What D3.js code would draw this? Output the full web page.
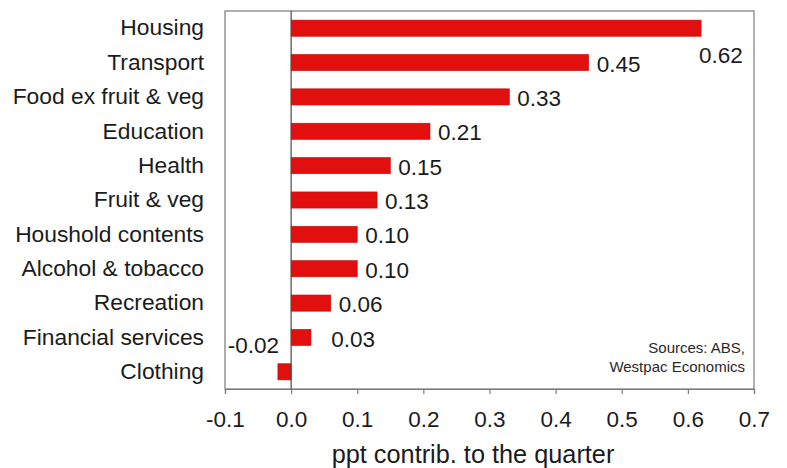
<!DOCTYPE html>
<html>
<head>
<meta charset="utf-8">
<script src="https://cdn.jsdelivr.net/npm/d3@7/dist/d3.min.js"></script>
<style>
  html, body { margin: 0; padding: 0; background: #fff; }
  svg { display: block; font-family: "Liberation Sans", Arial, Helvetica, sans-serif; }
</style>
</head>
<body>
<svg id="chart" width="787" height="468"></svg>
<script>
// CPI contributions by group, percentage points
const categories = [
  "Housing", "Transport", "Food ex fruit & veg", "Education", "Health",
  "Fruit & veg", "Houshold contents", "Alcohol & tobacco", "Recreation",
  "Financial services", "Clothing"
];
const contributions = [0.62, 0.45, 0.33, 0.21, 0.15, 0.13, 0.10, 0.10, 0.06, 0.03, -0.02];
const xTicks = [-0.1, 0, 0.1, 0.2, 0.3, 0.4, 0.5, 0.6, 0.7];
const xTitle = "ppt contrib. to the quarter";
const sourceLines = ["Sources: ABS,", "Westpac Economics"];

const data = categories.map((c, i) => ({ name: c, value: contributions[i] }));

const W = 787, H = 468;
const margin = { top: 11, right: 33, bottom: 79, left: 225 };
const svg = d3.select("#chart");

const x = d3.scaleLinear().domain([-0.1, 0.7]).range([margin.left, W - margin.right]);
const y = d3.scaleBand().domain(categories)
  .range([margin.top, H - margin.bottom])
  .paddingInner(0.53).paddingOuter(0.265);

const textColor = "#1b1b1b";
const frameColor = "#7a7a7a";

// plot frame
svg.append("rect")
  .attr("x", x(-0.1)).attr("y", margin.top)
  .attr("width", x(0.7) - x(-0.1)).attr("height", H - margin.bottom - margin.top)
  .attr("fill", "none").attr("stroke", frameColor).attr("stroke-width", 1.2);

// bars
svg.append("g").selectAll("rect").data(data).join("rect")
  .attr("x", d => x(Math.min(0, d.value)))
  .attr("y", d => y(d.name))
  .attr("width", d => Math.abs(x(d.value) - x(0)))
  .attr("height", y.bandwidth())
  .attr("fill", "#e1100f")
  .attr("stroke", "#c40d0c").attr("stroke-width", 0.6);

// zero line
svg.append("line")
  .attr("x1", x(0)).attr("x2", x(0))
  .attr("y1", margin.top).attr("y2", H - margin.bottom)
  .attr("stroke", "#4a4a4a").attr("stroke-width", 1.2);

// x axis
const xAxis = svg.append("g")
  .attr("transform", `translate(0,${H - margin.bottom})`)
  .call(d3.axisBottom(x).tickValues(xTicks).tickSize(5).tickPadding(17)
    .tickFormat(d3.format(".1f")));
xAxis.select(".domain").attr("stroke", frameColor).attr("stroke-width", 1.2);
xAxis.selectAll(".tick line").attr("stroke", frameColor).attr("stroke-width", 1.2);
xAxis.selectAll(".tick text")
  .attr("fill", textColor).style("font-size", "22.5px")
  .text(d => d3.format(".1f")(d).replace("−", "-"));

// y axis labels
const yAxis = svg.append("g")
  .attr("transform", `translate(${margin.left},0)`)
  .call(d3.axisLeft(y).tickSize(0).tickPadding(21));
yAxis.select(".domain").remove();
yAxis.selectAll(".tick text")
  .attr("fill", textColor).style("font-size", "22.8px");

// value labels: the largest sits below its bar end, negatives to the left of zero
const fmt = d3.format(".2f");
svg.append("g").selectAll("text").data(data).join("text")
  .attr("x", (d, i) => {
    if (d.value < 0) return x(0) - 12;
    if (i === 0) return x(d.value) - 2;
    return Math.max(x(d.value) + 8, x(0) + 40);
  })
  .attr("y", (d, i) => {
    const c = y(d.name) + y.bandwidth() / 2;
    if (d.value < 0) return c - 27;
    if (i === 0) return c + 27;
    return c + 1;
  })
  .attr("dy", "0.36em")
  .attr("text-anchor", d => d.value < 0 ? "end" : "start")
  .attr("fill", textColor).style("font-size", "22.5px")
  .text(d => fmt(d.value).replace("−", "-"));

// source note
svg.append("g").selectAll("text").data(sourceLines).join("text")
  .attr("x", 745)
  .attr("y", (d, i) => 348 + i * 19)
  .attr("dy", "0.36em")
  .attr("text-anchor", "end")
  .attr("fill", "#2a2a2a").style("font-size", "15px")
  .text(d => d);

// x axis title
svg.append("text")
  .attr("x", 473).attr("y", 463)
  .attr("text-anchor", "middle")
  .attr("fill", textColor).style("font-size", "25.3px")
  .text(xTitle);
</script>
</body>
</html>
